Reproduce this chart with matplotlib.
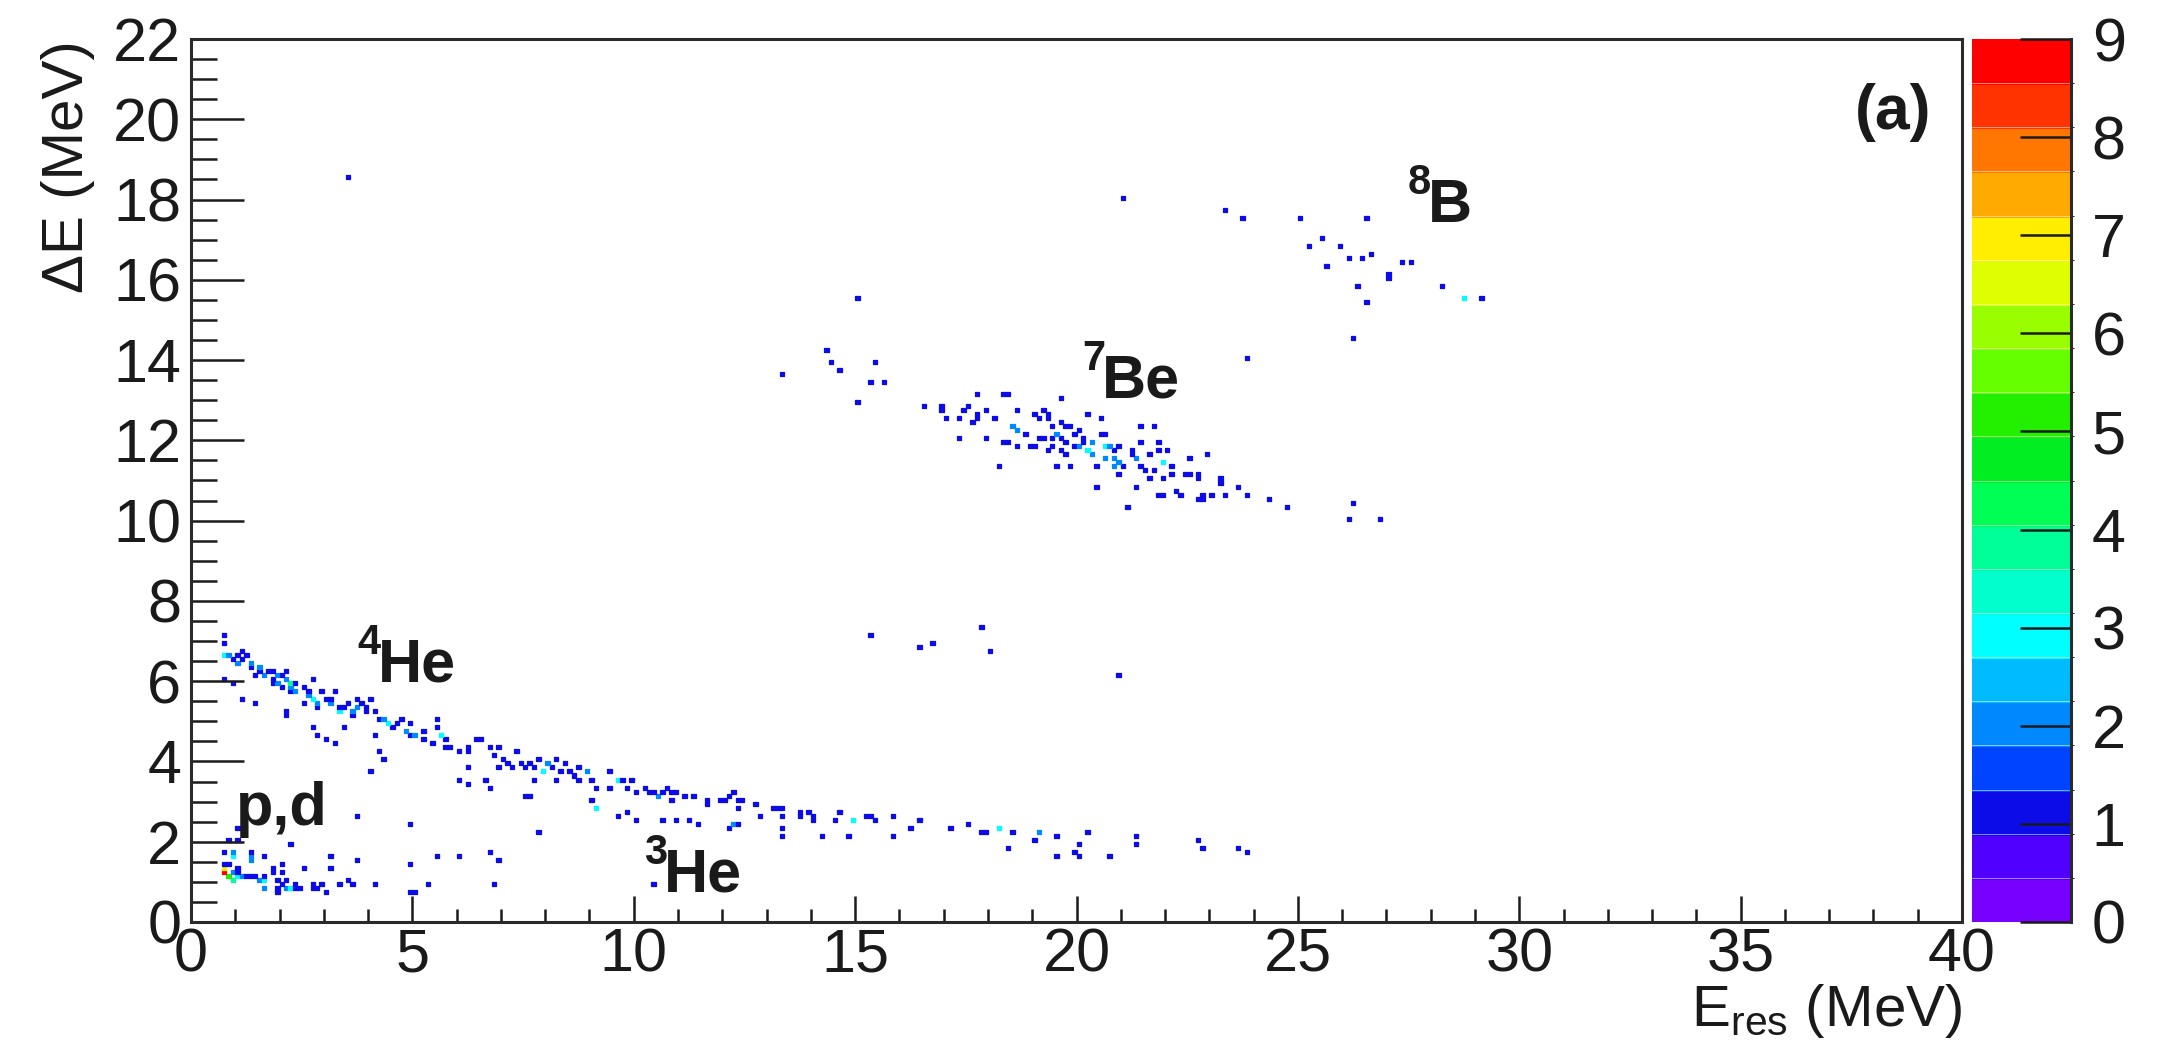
import numpy as np
import matplotlib
matplotlib.use("Agg")
import matplotlib.pyplot as plt
from matplotlib.colors import ListedColormap, BoundaryNorm
from matplotlib.ticker import MultipleLocator
from matplotlib.lines import Line2D

# ---------------- data: (E_res [MeV], dE [MeV], counts) per bin ----------------
he4_bins = [
    (0.75, 7.11, 1), (0.79, 6.94, 1), (0.75, 6.69, 3), (0.85, 6.62, 2), (0.94, 6.53, 1),
    (1.02, 6.44, 2), (1.05, 6.62, 1), (1.2, 6.78, 1), (1.24, 6.69, 1), (1.13, 6.53, 1),
    (1.32, 6.44, 2), (1.39, 6.32, 1), (1.47, 6.19, 1), (1.5, 6.35, 2), (1.58, 6.28, 1),
    (1.66, 6.15, 2), (1.72, 6.22, 1), (1.81, 6.24, 1), (1.88, 6.07, 1), (1.92, 6.15, 2),
    (1.96, 5.99, 2), (2.03, 6.11, 1), (2.1, 6.0, 2), (2.15, 6.28, 1), (2.22, 5.95, 4),
    (2.30, 5.86, 2), (2.33, 5.99, 1), (1.81, 5.9, 1), (2.0, 5.86, 1), (2.26, 5.7, 1),
    (2.4, 5.8, 2), (2.52, 5.82, 1), (2.64, 5.74, 1), (2.6, 5.65, 2), (2.71, 6.07, 1),
    (2.75, 5.55, 3), (2.86, 5.45, 2), (2.94, 5.78, 1), (3.01, 5.57, 1), (3.1, 5.45, 2),
    (3.16, 5.53, 1), (3.24, 5.78, 1), (2.52, 5.49, 1), (2.82, 5.36, 1), (3.31, 5.32, 1),
    (3.35, 5.2, 3), (3.45, 5.35, 1), (3.54, 5.49, 1), (3.61, 5.24, 2), (3.69, 5.16, 1),
    (3.76, 5.36, 2), (3.76, 5.53, 1), (3.88, 5.45, 1), (3.92, 5.2, 1), (3.99, 5.32, 1),
    (4.1, 5.57, 1), (4.18, 5.28, 1), (4.22, 5.03, 1), (4.33, 5.07, 2), (4.44, 4.95, 3),
    (4.52, 4.87, 1), (4.63, 4.99, 1), (4.74, 5.03, 1), (4.82, 4.74, 2), (4.93, 4.99, 1),
    (4.97, 4.66, 1), (5.08, 4.62, 2), (5.2, 4.7, 1), (5.27, 4.58, 1), (5.53, 5.07, 1),
    (5.57, 4.87, 1), (5.61, 4.66, 3), (5.72, 4.56, 1), (5.76, 4.37, 1), (5.42, 4.41, 1),
    (5.87, 4.33, 1), (6.02, 4.2, 1), (6.21, 4.33, 1), (6.25, 4.2, 1), (6.47, 4.53, 1),
    (6.55, 4.58, 1), (6.7, 4.33, 1), (6.89, 4.12, 1), (6.93, 4.37, 1), (7.04, 4.04, 1),
    (6.93, 3.87, 1),
    (0.75, 6.07, 1), (0.94, 5.99, 1), (1.13, 5.57, 1), (1.43, 5.49, 1), (2.15, 5.25, 1),
    (2.15, 5.15, 1), (2.71, 4.87, 1), (2.86, 4.66, 1), (3.09, 4.58, 1), (3.24, 4.47, 1),
    (3.43, 4.87, 1), (4.14, 4.66, 1), (4.22, 4.29, 1), (4.33, 4.08, 1), (4.1, 3.79, 1),
    (6.02, 3.58, 1), (6.25, 3.45, 1), (6.63, 3.58, 1), (6.74, 3.37, 1), (6.25, 3.87, 1),
    (7.17, 3.99, 1), (7.24, 3.87, 1), (7.32, 4.2, 1), (7.43, 3.91, 1), (7.51, 3.83, 1),
    (7.62, 3.95, 1), (7.73, 3.87, 1), (7.73, 3.58, 1), (7.84, 4.08, 1), (7.92, 3.79, 3),
    (8.03, 3.91, 2), (8.11, 3.83, 1), (8.22, 4.04, 1), (8.22, 3.58, 1), (8.33, 3.79, 1),
    (8.41, 3.95, 1), (7.58, 3.16, 1), (7.68, 3.16, 1), (8.52, 3.71, 1), (8.64, 3.66, 1),
    (8.71, 3.5, 1), (8.79, 3.83, 1), (8.9, 3.75, 1), (8.97, 3.79, 1), (9.01, 3.58, 1),
    (9.12, 3.37, 1), (9.01, 3.08, 1), (9.12, 2.87, 3), (9.43, 3.79, 1), (9.43, 3.37, 1),
    (9.61, 3.58, 3), (9.73, 3.5, 1), (9.84, 3.37, 1), (9.92, 3.58, 1), (10.03, 3.29, 1),
    (10.22, 3.37, 1), (10.37, 3.29, 1), (10.44, 3.21, 1), (10.56, 3.16, 2), (10.67, 3.21, 1),
    (10.74, 3.37, 1), (10.86, 3.29, 1), (10.86, 3.08, 1), (10.93, 3.29, 1), (11.2, 3.16, 1),
    (11.31, 3.16, 1), (11.61, 3.08, 1), (11.61, 2.96, 1), (11.91, 3.08, 1), (12.02, 3.08, 1),
    (12.17, 3.12, 1), (12.25, 3.21, 1), (12.32, 3.0, 1), (12.36, 2.87, 1), (12.44, 3.08, 1),
    (12.14, 2.37, 1), (12.25, 2.42, 2), (12.36, 2.42, 1), (12.74, 2.96, 1), (12.81, 2.67, 1),
    (13.12, 2.87, 1), (13.23, 2.87, 1), (13.34, 2.87, 1), (13.34, 2.67, 1), (13.34, 2.37, 1),
    (13.34, 2.17, 1), (9.61, 2.67, 1), (9.8, 2.79, 1), (10.03, 2.58, 1), (10.63, 2.58, 1),
    (10.93, 2.58, 1), (11.23, 2.58, 1), (11.42, 2.47, 1), (7.84, 2.25, 1), (13.72, 2.79, 1),
    (13.76, 2.67, 1), (13.91, 2.79, 1), (14.02, 2.67, 1), (14.09, 2.58, 1), (14.21, 2.17, 1),
    (14.51, 2.5, 1), (14.62, 2.79, 1), (14.85, 2.17, 1), (14.92, 2.58, 3), (15.22, 2.67, 1),
    (15.34, 2.67, 1), (15.49, 2.58, 1), (15.83, 2.67, 1), (15.83, 2.17, 1), (16.24, 2.37, 1),
    (16.43, 2.58, 1), (17.12, 2.37, 1), (17.52, 2.47, 1), (17.82, 2.24, 1), (17.92, 2.24, 1),
    (18.22, 2.37, 3), (18.43, 1.87, 1), (18.52, 2.24, 1), (19.02, 2.07, 1), (19.1, 2.24, 1),
    (19.2, 2.24, 1), (19.51, 2.17, 1), (19.51, 1.67, 1), (19.92, 1.77, 1), (20.02, 1.97, 1),
    (20.02, 1.67, 1), (20.23, 2.24, 1), (20.71, 1.67, 1), (21.34, 2.17, 1), (21.34, 1.97, 1),
    (22.72, 2.07, 1), (22.83, 1.87, 1), (23.63, 1.87, 1), (23.85, 1.77, 1),
]

pd_bins = [
    (1.05, 2.38, 1), (0.83, 2.04, 1), (1.01, 2.04, 1), (0.75, 1.79, 1), (0.9, 1.75, 2),
    (0.94, 1.65, 3), (1.39, 1.75, 1), (1.39, 1.63, 2), (1.39, 1.55, 1), (1.32, 1.59, 1),
    (1.62, 1.67, 1), (0.79, 1.46, 1), (0.87, 1.42, 1), (0.75, 1.25, 9), (0.75, 1.35, 7),
    (0.83, 1.17, 5), (0.94, 1.27, 2), (1.01, 1.25, 1), (1.09, 1.3, 1), (1.17, 1.17, 2),
    (1.24, 1.17, 1), (1.32, 1.13, 1), (1.43, 1.13, 1), (1.54, 1.09, 2), (1.62, 1.17, 1),
    (0.94, 1.09, 4), (1.09, 1.13, 3), (1.62, 1.0, 3), (1.62, 0.88, 2), (1.81, 1.38, 1),
    (1.81, 1.25, 1), (1.92, 1.01, 1), (1.92, 0.84, 1), (1.92, 0.76, 1), (2.03, 1.46, 1),
    (2.0, 1.25, 1), (2.03, 0.96, 1), (2.15, 0.88, 2), (2.26, 0.88, 3), (2.18, 1.05, 1),
    (2.33, 0.96, 1), (2.37, 0.8, 1), (2.45, 0.8, 1), (2.52, 1.38, 1), (2.71, 0.96, 1),
    (2.71, 0.8, 1), (2.82, 0.88, 1), (2.94, 0.96, 1), (3.01, 0.76, 1), (3.12, 1.67, 1),
    (3.12, 1.38, 1), (3.31, 0.96, 1), (3.54, 1.05, 1), (3.65, 0.96, 1), (3.73, 2.67, 1),
    (3.73, 1.56, 1), (4.14, 0.96, 1), (2.22, 1.98, 1), (4.93, 2.48, 1), (4.93, 1.46, 1),
    (4.93, 0.76, 1), (5.03, 0.76, 1), (5.35, 0.96, 1), (5.53, 1.67, 1), (6.02, 1.67, 1),
    (6.74, 1.78, 1), (6.93, 1.56, 1), (6.81, 0.96, 1), (10.41, 0.9, 1),
]

be7_bins = [
    (16.54, 12.88, 1), (16.92, 12.88, 1), (16.95, 12.72, 1), (17.03, 12.59, 1), (17.33, 12.51, 1),
    (17.41, 12.72, 1), (17.52, 12.8, 1), (17.6, 12.43, 1), (17.75, 12.51, 1), (17.75, 12.67, 1),
    (17.73, 13.11, 1), (17.93, 12.77, 1), (18.14, 12.59, 1), (18.35, 13.13, 1), (18.46, 13.18, 1),
    (17.33, 12.09, 1), (17.93, 12.05, 1), (18.35, 11.99, 1), (18.46, 11.99, 1), (18.23, 11.39, 1),
    (18.63, 12.77, 1), (18.57, 12.3, 2), (18.69, 12.22, 2), (18.84, 12.18, 1), (18.63, 11.8, 1),
    (18.95, 11.89, 1), (19.06, 11.84, 1), (19.03, 12.67, 1), (19.1, 12.55, 1), (19.14, 12.09, 1),
    (19.25, 12.09, 1), (19.21, 12.72, 1), (19.33, 12.69, 1), (19.33, 11.72, 1), (19.4, 12.51, 1),
    (19.44, 12.34, 1), (19.44, 12.05, 1), (19.44, 11.89, 1), (19.51, 11.39, 1), (19.63, 13.01, 1),
    (19.66, 12.47, 1), (19.74, 12.34, 1), (19.69, 12.05, 1), (19.74, 11.93, 1), (19.66, 11.72, 1),
    (19.78, 11.64, 1), (19.85, 12.3, 1), (19.93, 12.13, 1), (19.94, 11.84, 1), (19.84, 11.3, 1),
    (20.04, 12.22, 1), (20.12, 12.01, 1), (20.22, 12.67, 1), (20.23, 11.72, 3), (20.31, 11.64, 2),
    (20.19, 11.97, 1), (20.44, 11.3, 1), (20.44, 10.81, 1), (20.53, 12.51, 1), (20.53, 12.13, 1),
    (20.64, 12.18, 1), (20.61, 11.8, 3), (20.72, 11.84, 2), (20.68, 11.6, 2), (20.8, 11.51, 2),
    (20.91, 11.47, 2), (20.83, 11.39, 2), (20.87, 11.72, 1), (20.95, 11.84, 1), (21.06, 11.35, 1),
    (20.95, 11.14, 1), (21.13, 10.39, 1), (21.21, 11.76, 1), (21.28, 11.64, 1), (21.32, 10.89, 1),
    (21.36, 11.51, 2), (21.47, 11.35, 1), (21.55, 11.22, 1), (21.42, 12.3, 1), (21.44, 11.97, 1),
    (21.62, 11.64, 1), (21.66, 11.1, 1), (21.72, 12.3, 1), (21.77, 11.22, 1), (21.81, 11.97, 1),
    (21.81, 10.68, 1), (21.96, 10.68, 1), (21.89, 11.72, 1), (21.96, 11.43, 3), (21.96, 11.1, 1),
    (22.04, 11.72, 1), (22.15, 11.3, 1), (22.15, 11.14, 1), (22.26, 10.76, 1), (22.3, 10.68, 1),
    (22.41, 11.18, 1), (22.56, 11.18, 1), (22.71, 11.14, 1), (22.71, 11.01, 1), (22.53, 11.51, 1),
    (22.71, 10.6, 1), (22.9, 10.68, 1), (22.9, 10.58, 1), (22.93, 11.69, 1), (23.09, 10.68, 1),
    (23.24, 11.1, 1), (23.24, 10.97, 1), (23.32, 10.68, 1), (23.62, 10.81, 1), (23.81, 10.68, 1),
    (24.33, 10.6, 1), (24.75, 10.39, 1), (26.22, 10.47, 1), (26.14, 10.1, 1), (26.82, 10.0, 1),
    (20.0, 11.8, 2), (20.4, 11.9, 2), (19.55, 12.2, 2),
]

b8_bins = [
    (25.05, 17.51, 1), (26.53, 17.51, 1), (25.52, 17.01, 1), (25.24, 16.8, 1), (25.93, 16.8, 1),
    (26.14, 16.51, 1), (26.43, 16.51, 1), (26.63, 16.61, 1), (25.63, 16.31, 1), (27.38, 16.41, 1),
    (27.5, 16.41, 1), (27.02, 16.15, 1), (27.02, 16.05, 1), (26.33, 15.8, 1), (28.23, 15.8, 1),
    (28.72, 15.6, 3), (29.13, 15.6, 1), (26.53, 15.4, 1), (26.23, 14.6, 1),
]

other_bins = [
    (3.52, 18.53, 1), (21.08, 18.01, 1), (23.31, 17.7, 1), (23.75, 17.52, 1), (15.0, 15.55, 1),
    (14.35, 14.25, 1), (14.4, 13.9, 1), (14.7, 13.75, 1), (15.41, 13.92, 1), (15.34, 13.42, 1),
    (15.64, 13.41, 1), (15.1, 12.95, 1), (13.32, 13.7, 1), (23.81, 14.0, 1), (15.33, 7.18, 1),
    (16.46, 6.84, 1), (16.78, 6.9, 1), (17.82, 7.39, 1), (18.07, 6.7, 1), (20.96, 6.18, 1),
]

particle_labels = [("4", "He", 4.22, 5.98), ("3", "He", 10.68, 0.75),
                   ("7", "Be", 20.58, 13.06), ("8", "B", 27.94, 17.44)]

palette = ['#7700ff', '#5000ff', '#0c0ce8', '#0044ff', '#0088ff', '#00bbff', '#00ffff',
           '#00ffcc', '#00ff99', '#00ff55', '#00ee22', '#22f000', '#66ff00', '#99ff00',
           '#ddff00', '#ffee00', '#ffaa00', '#ff7700', '#ff3300', '#ff0000']

# ---------------- build histogram ----------------
allb = he4_bins + pd_bins + be7_bins + b8_bins + other_bins
xs = np.array([b[0] for b in allb])
ys = np.array([b[1] for b in allb])
ws = np.array([b[2] for b in allb], dtype=float)
xe = np.linspace(0, 40, 401)
ye = np.linspace(0, 22, 221)
H, _, _ = np.histogram2d(xs, ys, bins=[xe, ye], weights=ws)
Hm = np.ma.masked_where(H.T <= 0, H.T)

plt.rcParams['font.family'] = ['Liberation Sans', 'DejaVu Sans']
plt.rcParams['mathtext.fontset'] = 'custom'
plt.rcParams['mathtext.rm'] = 'Liberation Sans'
plt.rcParams['mathtext.it'] = 'Liberation Sans:italic'
plt.rcParams['mathtext.bf'] = 'Liberation Sans:bold'

W, Hpx = 2183, 1046
fig = plt.figure(figsize=(W / 100, Hpx / 100), dpi=100)
fig.patch.set_facecolor('white')
L, R, T, B = 191, 1962, 39, 922
ax = fig.add_axes([L / W, 1 - B / Hpx, (R - L) / W, (B - T) / Hpx])

cmap = ListedColormap(palette)
norm = BoundaryNorm(np.linspace(0, 9, 21), cmap.N, clip=True)
mesh = ax.pcolormesh(xe, ye, Hm, cmap=cmap, norm=norm, shading='flat',
                     edgecolors='face', linewidth=0.9, antialiased=True)

ax.set_xlim(0, 40)
ax.set_ylim(0, 22)
ax.set_xticks(np.arange(0, 41, 5))
ax.set_yticks(np.arange(0, 23, 2))
ax.xaxis.set_minor_locator(MultipleLocator(1))
ax.yaxis.set_minor_locator(MultipleLocator(0.5))
fc = '#1a1a1a'
ax.tick_params(axis='both', which='both', direction='in', top=False, right=False,
               width=1.8, color=fc, labelcolor=fc)
ax.tick_params(axis='x', which='major', length=19, pad=4, labelsize=44)
ax.tick_params(axis='x', which='minor', length=9.5)
ax.tick_params(axis='y', which='major', length=38, pad=7, labelsize=44)
ax.tick_params(axis='y', which='minor', length=19)
for s in ax.spines.values():
    s.set_linewidth(2.2)
    s.set_color('#2a2a2a')

# axis titles
fig.text(68 / W, 1 - 40 / Hpx, 'ΔE (MeV)', rotation=90, ha='center', va='top',
         fontsize=42, color=fc)
fig.text(R / W, 1 - 1026 / Hpx, r'E$_{\mathrm{res}}$ (MeV)', ha='right', va='baseline',
         fontsize=42, color=fc)

# particle labels
for sup, name, x, y in particle_labels:
    ax.text(x, y, name, fontsize=44, weight='bold', ha='left', va='baseline', color=fc)
    ax.annotate(sup, (x, y), xytext=(3, 28), textcoords='offset pixels', fontsize=30,
                weight='bold', ha='right', va='baseline', color=fc)
ax.text(1.02, 2.42, 'p,d', fontsize=44, weight='bold', ha='left', va='baseline', color=fc)
ax.text(39.3, 20.16, '(a)', fontsize=45, weight='bold', ha='right', va='center', color=fc)

# colour bar
cax = fig.add_axes([1972 / W, 1 - B / Hpx, 99 / W, (B - T) / Hpx])
cb = fig.colorbar(mesh, cax=cax, ticks=np.arange(0, 10))
cb.outline.set_visible(False)
cb.solids.set_edgecolor('face')
for lev in np.linspace(0, 9, 21)[1:-1]:
    cax.axhline(lev, color='white', lw=0.6, alpha=0.6)
cax.tick_params(direction='in', length=37, width=1.8, labelsize=44, pad=15,
                right=True, left=False, color=fc, labelcolor=fc)
cax.add_line(Line2D([1, 1], [0, 1], transform=cax.transAxes, color='#2a2a2a', lw=2.2,
                    clip_on=False))

fig.savefig('out.png', dpi=100, facecolor='white')
